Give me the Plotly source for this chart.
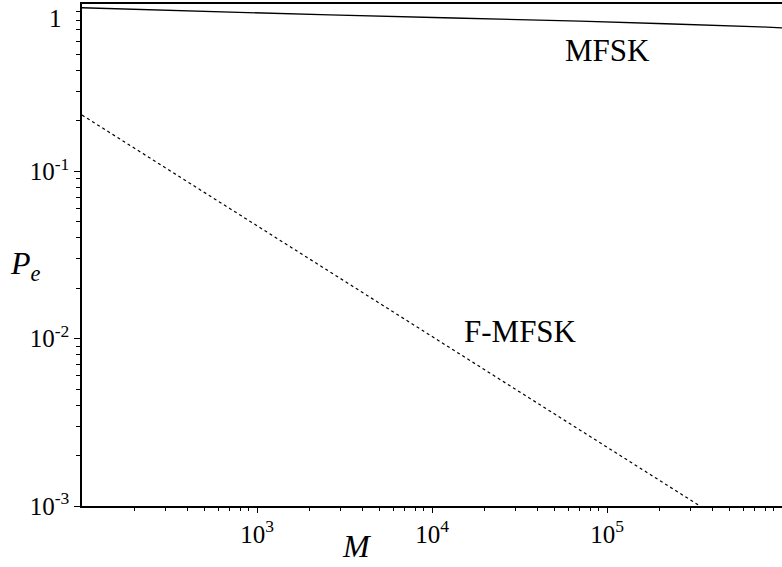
import plotly.graph_objects as go

# Error probability versus alphabet size M
m_mfsk = [100, 2600, 70000, 750000, 1000000]
pe_mfsk = [0.95, 0.86, 0.79, 0.73, 0.72]

m_fmfsk = [100, 1000, 10000, 100000, 340000]
pe_fmfsk = [0.217, 0.0472, 0.0103, 0.00223, 0.001]

x_ticks = [1e3, 1e4, 1e5]
x_tick_text = ["10<sup>3</sup>", "10<sup>4</sup>", "10<sup>5</sup>"]
y_ticks = [1e-3, 1e-2, 1e-1]
y_tick_text = ["10<sup>-3</sup>", "10<sup>-2</sup>", "10<sup>-1</sup>"]

# minor tick positions (2..9 times each decade)
x_minor = [k * 10 ** n for n in range(2, 6) for k in range(2, 10)]
y_minor = [k * 10.0 ** n for n in range(-3, 0) for k in range(2, 10)]

FONT = "Liberation Serif"

fig = go.Figure()
fig.add_trace(go.Scatter(
    x=m_mfsk, y=pe_mfsk, mode="lines",
    line=dict(color="black", width=1.3, shape="spline", smoothing=0.6),
    showlegend=False,
))
fig.add_trace(go.Scatter(
    x=m_fmfsk, y=pe_fmfsk, mode="lines",
    line=dict(color="black", width=1.2, dash="3px,3px"),
    showlegend=False,
))

axis_common = dict(
    type="log",
    showgrid=False,
    zeroline=False,
    showline=True,
    linecolor="black",
    linewidth=1.5,
    ticks="outside",
    tickcolor="black",
    tickfont=dict(family=FONT, size=25, color="black"),
)

fig.update_xaxes(
    **axis_common,
    range=[2, 6],
    mirror=True,
    tickvals=x_ticks,
    ticktext=x_tick_text,
    ticklen=5,
    minor=dict(ticks="outside", ticklen=3, tickcolor="black",
               tickvals=x_minor, showgrid=False),
)
fig.update_yaxes(
    **axis_common,
    range=[-3, 0],
    tickvals=y_ticks,
    ticktext=y_tick_text,
    ticklen=6,
    minor=dict(ticks="outside", ticklen=4, tickcolor="black",
               tickvals=y_minor, showgrid=False),
)

annotations = [
    # top tick label
    dict(text="1", xref="paper", x=0, y=0, yref="y", xanchor="right",
         yanchor="middle", xshift=-18, yshift=-14,
         showarrow=False, font=dict(family=FONT, size=25, color="black")),
    # curve labels
    dict(text="MFSK", x=5.0, y=-0.275, xref="x", yref="y",
         xanchor="center", yanchor="middle",
         showarrow=False, font=dict(family=FONT, size=31, color="black")),
    dict(text="F-MFSK", x=4.503, y=-1.955, xref="x", yref="y",
         xanchor="center", yanchor="middle",
         showarrow=False, font=dict(family=FONT, size=31, color="black")),
    # axis titles
    dict(text="<i>P</i><sub><i>e</i></sub>", xref="paper", yref="paper",
         x=-0.081, y=0.48, xanchor="center", yanchor="middle",
         showarrow=False, font=dict(family=FONT, size=32, color="black")),
    dict(text="<i>M</i>", xref="paper", yref="paper",
         x=0.393, y=-0.079, xanchor="center", yanchor="middle",
         showarrow=False, font=dict(family=FONT, size=32, color="black")),
]

fig.update_layout(
    width=782,
    height=567,
    margin=dict(l=82, r=0, t=4, b=61),
    paper_bgcolor="white",
    plot_bgcolor="white",
    annotations=annotations,
    font=dict(family=FONT, color="black"),
)

fig.write_html("out.html")
